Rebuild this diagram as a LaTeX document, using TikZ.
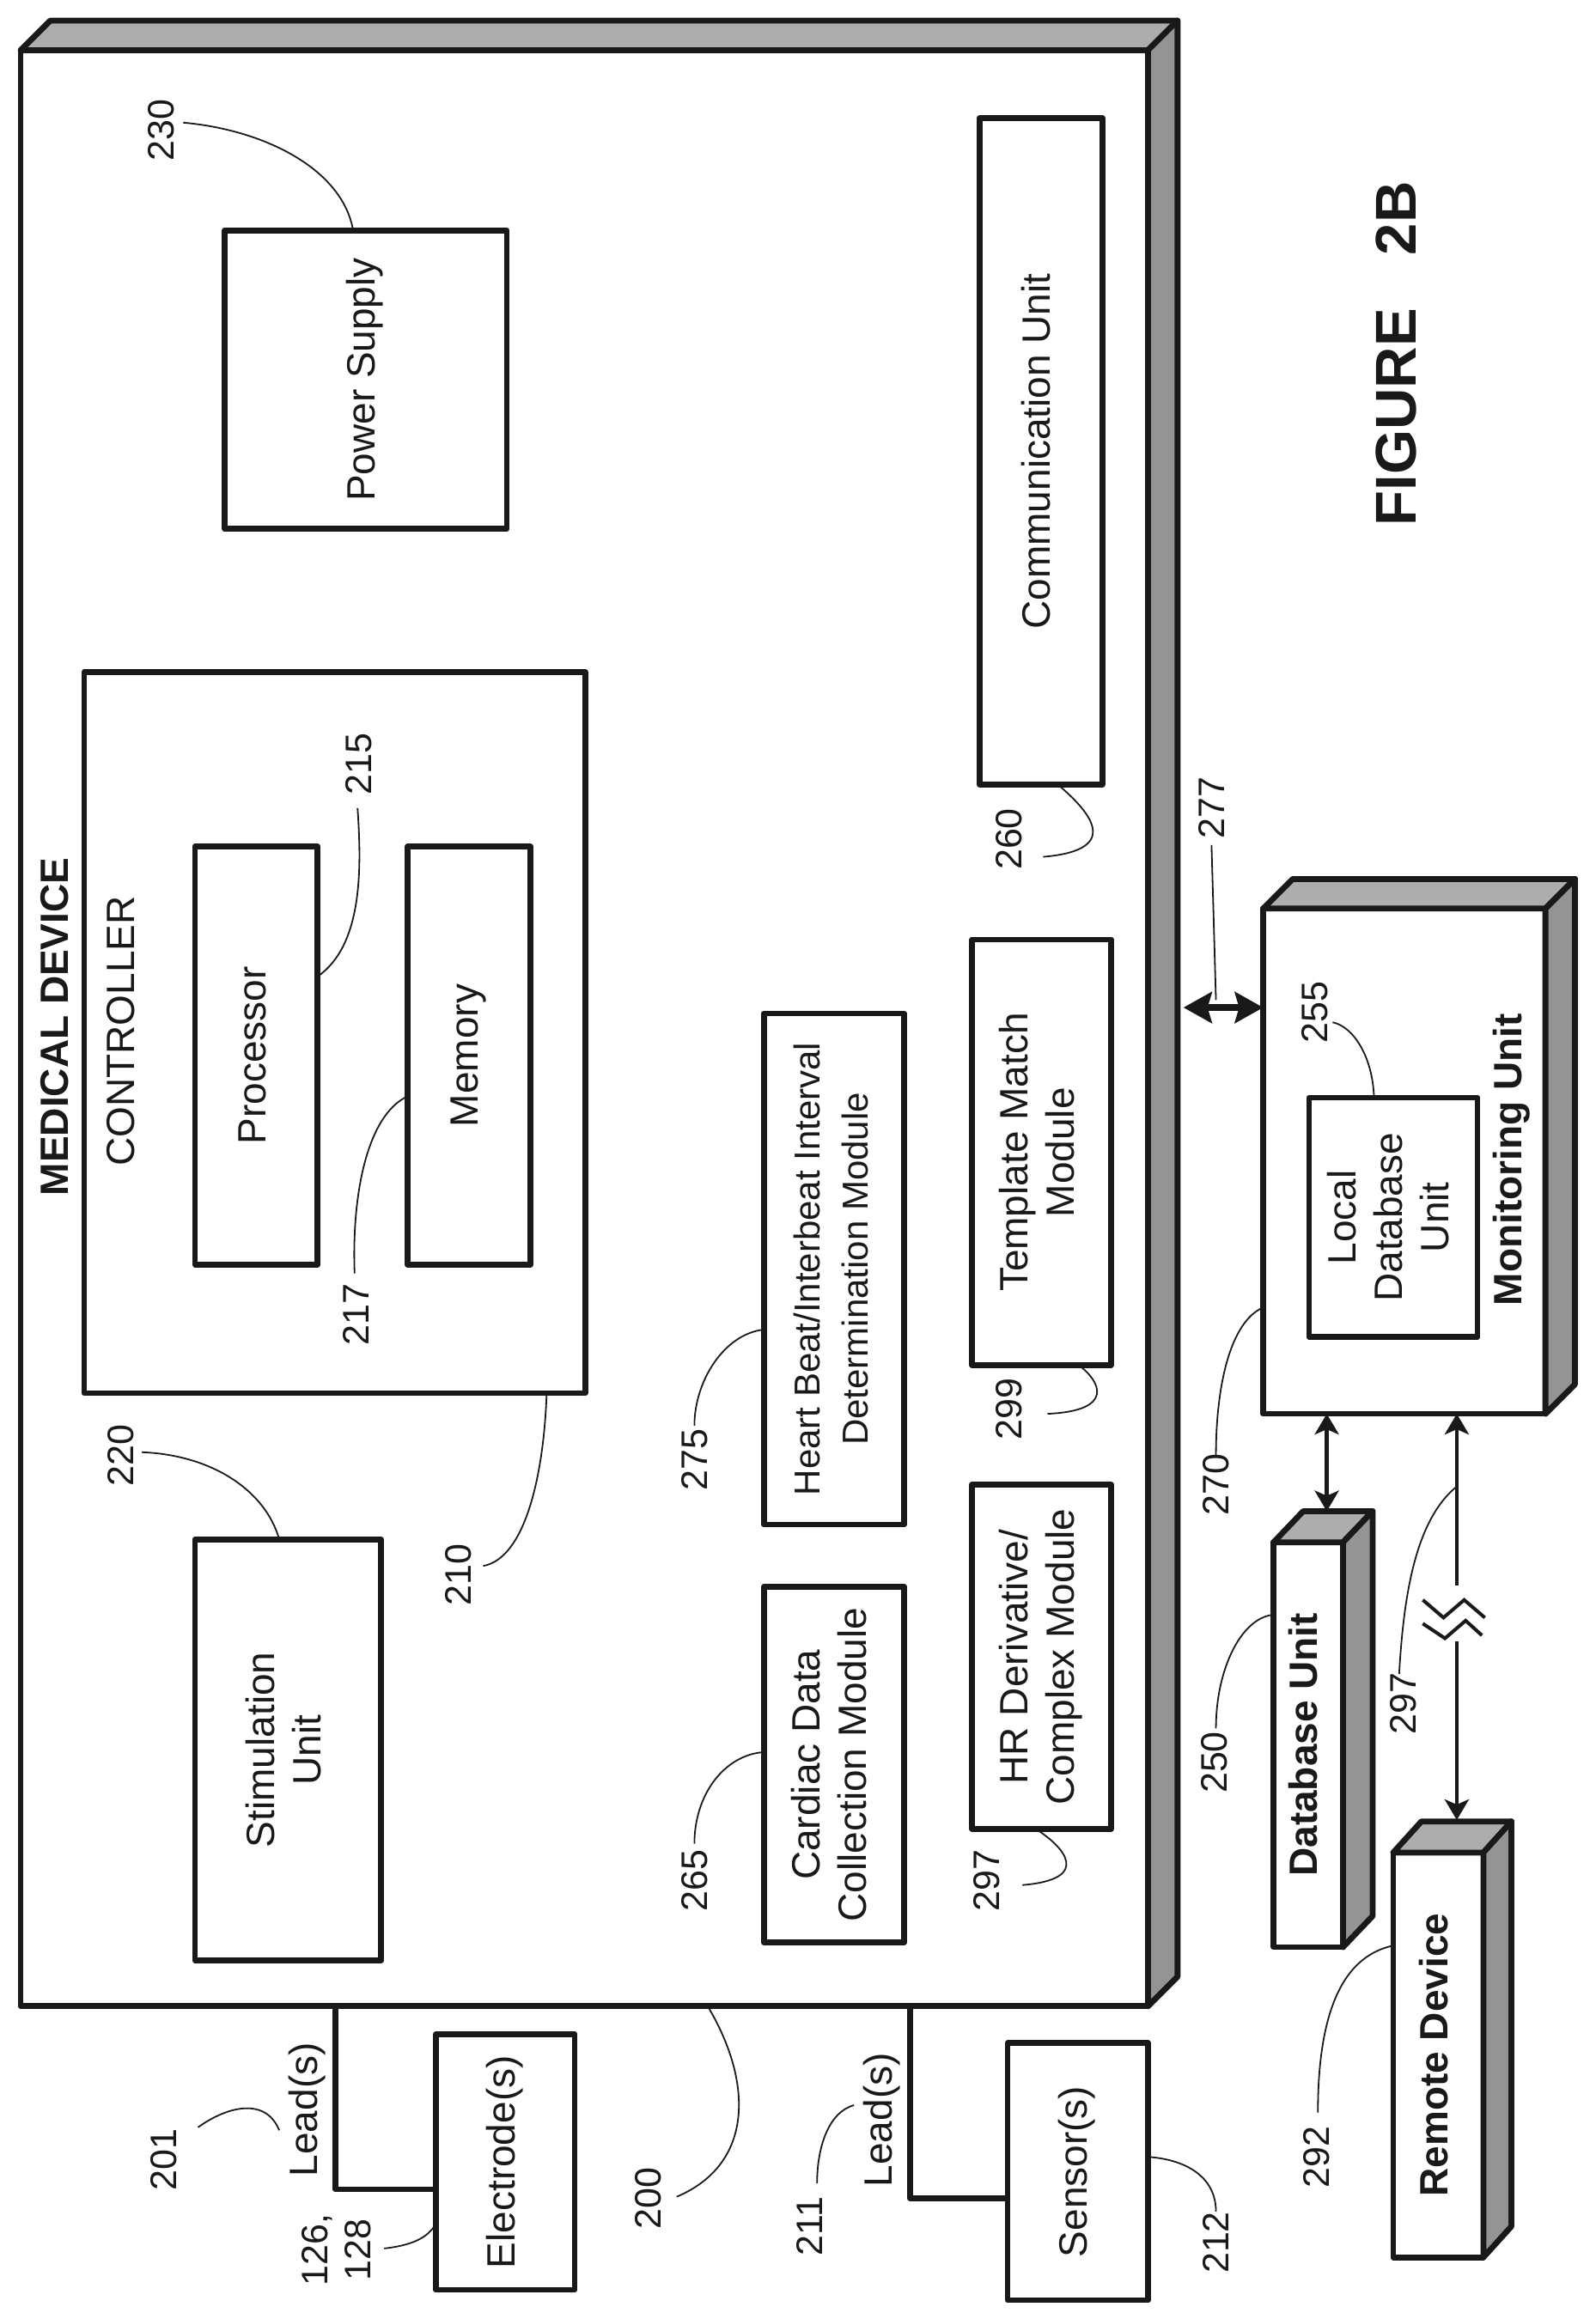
\documentclass[tikz,border=0pt]{standalone}
\usepackage{fontspec}
\setmainfont{Liberation Sans}
\usetikzlibrary{calc,arrows.meta}
\newcommand{\bx}[6]{\node[boxst,minimum width={(#4-#2)*0.86pt},minimum height={(#5-#3)*0.86pt}] (#1) at ({(#2+#4)/2},{(#3+#5)/2}) {#6};}
\newcommand{\rottext}[1]{\rotatebox{90}{\begin{tabular}{@{}c@{}}#1\end{tabular}}}
\newcommand{\threed}[3]{%
  \draw[topface] (#1.north west) -- ++(#2,-#3) -- ($(#1.north east)+(#2,-#3)$) -- (#1.north east) -- cycle;
  \draw[sideface] (#1.north east) -- ($(#1.north east)+(#2,-#3)$) -- ($(#1.south east)+(#2,-#3)$) -- (#1.south east) -- cycle;}
\definecolor{ink}{gray}{0.1}
\tikzset{
  boxst/.style={draw=ink,line width=3.4pt,inner sep=0pt,outer sep=0pt,line join=round,font=\fontsize{23}{27}\selectfont,text=ink},
  topface/.style={draw=ink,line width=3.4pt,line join=round,fill=black!32},
  sideface/.style={draw=ink,line width=3.4pt,line join=round,fill=black!42},
  txt/.style={rotate=90,inner sep=0pt,font=\fontsize{23}{27}\selectfont,text=ink},
  btxt/.style={txt,font=\fontsize{23}{27}\selectfont\bfseries},
  ref/.style={rotate=90,inner sep=0pt,font=\fontsize{21.5}{25}\selectfont,text=ink,align=center},
  ldr/.style={draw=ink,line width=0.9pt},
  wire/.style={draw=ink,line width=3.2pt,line join=round},
  conn/.style={draw=ink,line width=2.4pt,{Stealth[length=12pt,width=14pt,inset=3pt]}-{Stealth[length=12pt,width=14pt,inset=3pt]}},
  fat/.style={draw=ink,line width=4pt,{Stealth[length=16.5pt,width=18pt,inset=2.5pt]}-{Stealth[length=16.5pt,width=18pt,inset=2.5pt]}},
  zig/.style={draw=ink,line width=2pt},
  x=0.86pt,y=-0.86pt}
\begin{document}
\begin{tikzpicture}
\useasboundingbox (0,0) rectangle (1080.2,1565.7);
% main enclosure
\bx{md}{14}{34}{777}{1358}{}
\threed{md}{20}{20}
\node[btxt] (mdt) at (37,695) {MEDICAL DEVICE};
% inner boxes
\bx{ps}{152}{156}{343}{358}{\rottext{Power Supply}}
\bx{cu}{663}{80}{746}{531}{\rottext{Communication Unit}}
\bx{ctl}{57}{455}{396}{943}{}
\node[txt] (ctlt) at (82,698) {CONTROLLER};
\bx{pr}{132}{573}{215}{856}{\rottext{Processor}}
\bx{mem}{276}{573}{359}{856}{\rottext{Memory}}
\bx{stim}{132}{1042}{258}{1327}{\rottext{Stimulation\\Unit}}
\bx{hb}{517}{686}{612}{1032}{\rotatebox{90}{\fontsize{21}{28}\selectfont\begin{tabular}{@{}c@{}}Heart Beat/Interbeat Interval\\Determination Module\end{tabular}}}
\bx{cd}{517}{1074}{612}{1315}{\rottext{Cardiac Data\\Collection Module}}
\bx{tm}{658}{636}{752}{924}{\rottext{Template Match\\Module}}
\bx{hr}{658}{1005}{752}{1238}{\rottext{HR Derivative/\\Complex Module}}
% outside
\bx{el}{295}{1377}{389}{1550}{\rottext{Electrode(s)}}
\bx{sn}{682}{1383}{777}{1557}{\rottext{Sensor(s)}}
\bx{mu}{855}{615}{1046}{957}{}
\threed{mu}{20}{20}
\bx{ldb}{886}{743}{1000}{905}{\rottext{Local\\Database\\Unit}}
\node[btxt] (mut) at (1023,785) {Monitoring Unit};
\bx{db}{862}{1044}{909}{1318}{\rottext{\bfseries Database Unit}}
\threed{db}{20}{21}
\bx{rd}{943}{1254}{1004}{1528}{\rottext{\bfseries Remote Device}}
\threed{rd}{19}{21}
\node[inner sep=0pt,rotate=90,font=\fontsize{33.5}{38}\selectfont\bfseries,text=ink] (fig) at (945,239.5) {FIGURE\hspace{31pt}2B};
% leads
\draw[wire] (md.south -| 227,0) |- (el.west |- 0,1482);
\draw[wire] (md.south -| 616,0) |- (sn.west |- 0,1488);
\node[txt] (l1) at (208,1428) {Lead(s)};
\node[txt] (l2) at (597,1435) {Lead(s)};
% connectors
\coordinate (mdr) at (801,682);
\draw[fat] (mdr) -- (mu.west |- 0,682);
\coordinate (dbt) at (898,1023);
\draw[conn] (mu.south -| 898,0) -- (dbt);
\coordinate (zigA) at (986,1073);
\coordinate (zigB) at (986,1111);
\draw[draw=ink,line width=2.4pt,{Stealth[length=12pt,width=14pt,inset=3pt]}-] (mu.south -| 986,0) -- (zigA);
\coordinate (rdt) at (986,1232);
\draw[draw=ink,line width=2.4pt,-{Stealth[length=12pt,width=14pt,inset=3pt]}] (zigB) -- (rdt);
\draw[zig] (963,1083) -- (977,1095) -- (991,1083) -- (1005,1095);
\draw[zig] (963,1099) -- (978,1109) -- (992,1097) -- (1003,1107);
% reference numerals and leader lines
\node[ref] (n230) at (109,88) {230};
\coordinate (e230) at (124,83);
\draw[ldr] (e230) .. controls (180,88) and (232,115) .. (ps.north -| 239,0);
\node[ref] (n215) at (243,517) {215};
\coordinate (e215) at (242,547);
\draw[ldr] (e215) .. controls (245,590) and (245,640) .. (pr.east |- 0,661);
\node[ref] (n217) at (241,890) {217};
\coordinate (e217) at (240,862);
\draw[ldr] (e217) .. controls (238,810) and (248,755) .. (mem.west |- 0,742);
\node[ref] (n220) at (82,985) {220};
\coordinate (e220) at (96,983);
\draw[ldr] (e220) .. controls (145,985) and (180,1010) .. (stim.north -| 189,0);
\node[ref] (n210) at (310,1066) {210};
\coordinate (e210) at (327,1060);
\draw[ldr] (ctl.south -| 370,0) .. controls (368,1000) and (355,1055) .. (e210);
\node[ref] (n275) at (470,988) {275};
\coordinate (e275) at (470,965);
\draw[ldr] (e275) .. controls (470,935) and (490,903) .. (hb.west |- 0,900);
\node[ref] (n265) at (470,1273) {265};
\coordinate (e265) at (470,1248);
\draw[ldr] (e265) .. controls (470,1215) and (490,1188) .. (cd.west |- 0,1186);
\node[ref] (n299) at (683,954) {299};
\coordinate (e299) at (709,957);
\draw[ldr] (tm.south -| 730,0) .. controls (745,935) and (755,955) .. (e299);
\node[ref] (n260) at (683,568) {260};
\coordinate (e260) at (706,580);
\draw[ldr] (cu.south -| 716,0) .. controls (732,545) and (765,575) .. (e260);
\node[ref] (n297a) at (668,1273) {297};
\coordinate (e297a) at (692,1276);
\draw[ldr] (hr.south -| 701,0) .. controls (720,1250) and (740,1272) .. (e297a);
\node[ref] (n277) at (820,547) {277};
\coordinate (e277) at (820,572);
\coordinate (f277) at (823,677);
\draw[ldr] (e277) -- (f277);
\node[ref] (n255) at (890,685) {255};
\coordinate (e255) at (902,692);
\draw[ldr] (e255) .. controls (916,695) and (929,715) .. (ldb.north -| 930,0);
\node[ref] (n270) at (823,1005) {270};
\coordinate (e270) at (823,985);
\draw[ldr] (e270) .. controls (823,940) and (832,895) .. (mu.west |- 0,885);
\node[ref] (n250) at (822,1193) {250};
\coordinate (e250) at (823,1170);
\draw[ldr] (e250) .. controls (823,1130) and (840,1095) .. (db.west |- 0,1093);
\node[ref] (n297b) at (950,1153) {297};
\coordinate (e297b) at (947,1133);
\coordinate (f297b) at (985,1007);
\draw[ldr] (e297b) .. controls (950,1080) and (958,1030) .. (f297b);
\node[ref] (n292) at (891,1460) {292};
\coordinate (e292) at (892,1430);
\draw[ldr] (e292) .. controls (892,1370) and (905,1325) .. (rd.west |- 0,1317);
\node[ref] (n201) at (111,1462) {201};
\coordinate (e201a) at (134,1440);
\coordinate (e201b) at (189,1442);
\draw[ldr] (e201a) .. controls (155,1425) and (180,1420) .. (e201b);
\node[ref] (n211) at (548,1507) {211};
\coordinate (e211a) at (553,1478);
\coordinate (e211b) at (578,1425);
\draw[ldr] (e211a) .. controls (553,1455) and (560,1430) .. (e211b);
\node[ref] (n126) at (228,1523) {126,\\128};
\coordinate (e126) at (260,1522);
\draw[ldr] (e126) .. controls (278,1520) and (290,1515) .. (el.west |- 0,1505);
\node[ref] (n200) at (439,1488) {200};
\coordinate (e200) at (458,1487);
\draw[ldr] (md.south -| 479,0) .. controls (510,1410) and (510,1465) .. (e200);
\node[ref] (n212) at (823,1518) {212};
\coordinate (e212) at (823,1497);
\draw[ldr] (sn.east |- 0,1460) .. controls (805,1462) and (823,1475) .. (e212);
\end{tikzpicture}
\end{document}
